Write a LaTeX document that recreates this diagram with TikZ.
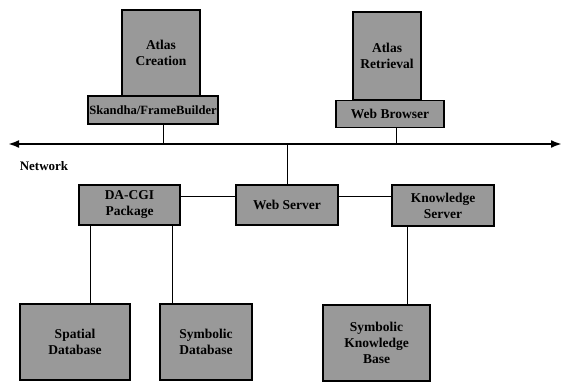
\documentclass[tikz,border=0pt]{standalone}
\usepackage{fontspec}
\setmainfont{Liberation Serif}
\usetikzlibrary{arrows.meta}
\begin{document}
\begin{tikzpicture} [x=1pt,y=-1pt,
    box/.style={rectangle,draw,line width=1.1pt,fill=black!40,align=center,inner sep=1pt,
                font=\fontsize{13.5}{16}\selectfont\bfseries},
    link/.style={line width=.8pt}]
\useasboundingbox (0,0) rectangle (562,381);
%clients
        \node[box,minimum width=78pt,minimum height=86pt] (creation) at (161,53) {Atlas\\Creation};
        \node[box,minimum width=130pt,minimum height=28pt,font=\fontsize{12.6}{15}\selectfont\bfseries] (skandha) at (153,110) {Skandha/FrameBuilder};
        \node[box,minimum width=68pt,minimum height=88pt] (retrieval) at (387,56) {Atlas\\Retrieval};
        \node[box,minimum width=108pt,minimum height=27pt] (browser) at (390,114) {Web Browser};
%network
        \coordinate (netL) at (8,144);
        \coordinate (netR) at (562,144);
        \coordinate (n1) at (163,144);
        \coordinate (n2) at (396,144);
        \coordinate (n3) at (287,144);
        \draw [line width=2.6pt, {Latex[length=11pt,width=8pt]}-{Latex[length=11pt,width=8pt]}] (netL) -- (netR);
        \node[font=\fontsize{13}{15}\selectfont\bfseries] (network) at (44,166) {Network};
        \draw [link] (skandha.south -| n1) -- (n1);
        \draw [link] (browser.south -| n2) -- (n2);
%servers
        \node[box,minimum width=101pt,minimum height=40pt] (dacgi) at (129.5,205) {DA-CGI\\Package};
        \node[box,minimum width=102pt,minimum height=40pt] (webserver) at (287,205) {Web Server};
        \node[box,minimum width=102pt,minimum height=41pt] (kserver) at (443,205.5) {Knowledge\\Server};
        \draw [link] (n3) -- (webserver);
        \coordinate (h1) at (0,196);
        \draw [link] (dacgi.east |- h1) -- (webserver.west |- h1);
        \draw [link] (webserver.east |- h1) -- (kserver.west |- h1);
%databases
        \node[box,minimum width=110pt,minimum height=76pt] (spatial) at (75,342) {Spatial\\Database};
        \node[box,minimum width=92pt,minimum height=76pt] (symdb) at (206,342) {Symbolic\\Database};
        \node[box,minimum width=107pt,minimum height=76pt] (skb) at (376.5,343) {Symbolic\\Knowledge\\Base};
        \coordinate (v1) at (90,0);
        \coordinate (v2) at (172,0);
        \coordinate (v3) at (407,0);
        \draw [link] (dacgi.south -| v1) -- (spatial.north -| v1);
        \draw [link] (dacgi.south -| v2) -- (symdb.north -| v2);
        \draw [link] (kserver.south -| v3) -- (skb.north -| v3);
    \end{tikzpicture}
\end{document}
